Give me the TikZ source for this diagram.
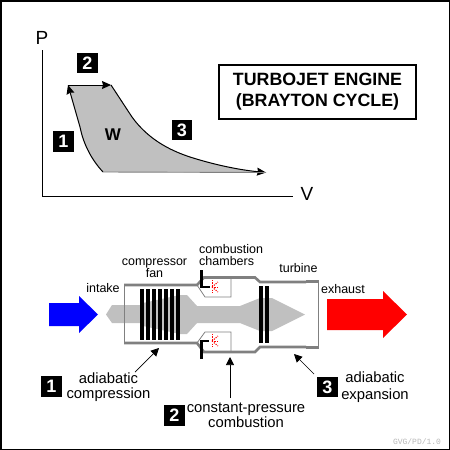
\documentclass[tikz,border=0pt]{standalone}
\usepackage{fontspec}
\setmainfont{Liberation Sans}
\setmonofont{Liberation Mono}
\usepackage{tikz}
\usetikzlibrary{arrows.meta,calc}
\definecolor{cyclegrey}{RGB}{192,192,192}
\definecolor{casegrey}{RGB}{128,128,128}
\definecolor{creditgrey}{RGB}{185,185,185}

\begin{document}
\begin{tikzpicture}[
    x=1pt, y=-1pt,
    badge/.style={fill=black, text=white, minimum size=20.5pt, inner sep=0pt, font=\fontsize{18}{18}\selectfont\bfseries},
    lbl/.style={inner sep=0pt, align=center, font=\fontsize{12.5}{12}\selectfont},
    stagelbl/.style={inner sep=0pt, align=center, font=\fontsize{14.8}{15}\selectfont},
    axislbl/.style={inner sep=0pt, font=\fontsize{19}{19}\selectfont},
    casing/.style={draw=casegrey, line width=2.6pt},
    thinline/.style={draw=casegrey, line width=0.8pt},
    blade/.style={fill=black},
    spark/.style={red, line width=1pt, dash pattern=on 1.2pt off 1.2pt},
    inject/.style={line width=2.6pt, black},
    flow/.style={-{Stealth[length=9pt,width=8pt,inset=1pt]}, line width=1pt},
    lead/.style={-{Stealth[length=8pt,width=8pt,inset=0pt]}, line width=0.7pt}
]
    \useasboundingbox (0,0) rectangle (450,450);
    \fill[white] (0,0) rectangle (450,450);
    \draw[line width=3pt] (0,0) rectangle (450,450);

    % P-V chart
    \coordinate (origin) at (42.5,196);
    \node[axislbl] (plabel) at (42,38) {P};
    \node[axislbl] (vlabel) at (307,194) {V};
    \draw[line width=0.9pt] (42.5,50) -- (origin) -- (293,196);

    \coordinate (c1) at (103,172);
    \coordinate (c2) at (68,85);
    \coordinate (c3) at (111,85);
    \coordinate (c4) at (266,172.5);
    \fill[cyclegrey] (c1) .. controls (90,158) and (83,142) .. (80,127) -- (c2) -- (c3)
        -- (132,117) .. controls (150,142) and (175,152) .. (190,157)
        .. controls (215,165) and (240,170) .. (c4) -- cycle;
    \draw[flow] (c1) .. controls (90,158) and (83,142) .. (80,127) -- (c2);
    \draw[flow] (c2) -- (c3);
    \draw[flow] (c3) -- (132,117) .. controls (150,142) and (175,152) .. (190,157)
        .. controls (215,165) and (240,170) .. (c4);
    \draw[casegrey, line width=0.9pt] (c1) -- (c4);

    \node[font=\fontsize{17}{17}\selectfont\bfseries, inner sep=0pt] (work) at (113,135) {W};
    \node[badge] (one)   at (63.5,141.5) {1};
    \node[badge] (two)   at (87.5,63)    {2};
    \node[badge] (three) at (182,130)    {3};

    \node[draw, line width=2pt, minimum width=197pt, minimum height=54pt, inner sep=0pt, align=center,
          font=\fontsize{17.8}{21}\selectfont\bfseries] (title) at (317.5,92) {TURBOJET ENGINE\\(BRAYTON CYCLE)};

    % flow arrows
    \fill[blue] (49,303) -- (79,303) -- (79,296) -- (98,314.5) -- (79,333) -- (79,326) -- (49,326) -- cycle;
    \fill[red] (327,299) -- (383,299) -- (383,291) -- (407,314.5) -- (383,338) -- (383,330) -- (327,330) -- cycle;

    % shaft
    \fill[cyclegrey] (106,314.5) -- (112,305) -- (143,305) -- (143,303) -- (180,295) -- (187,295) -- (197,306)
        -- (240,306) -- (260,298) -- (272,298) -- (305,314.5) -- (272,331) -- (260,331) -- (240,323)
        -- (197,323) -- (187,334) -- (180,334) -- (143,326) -- (143,323) -- (112,323) -- cycle;

    % casing
    \draw[thinline] (124,285) -- (124,343);
    \draw[thinline] (318,281) -- (318,347);
    \draw[thinline] (197,285) -- (205,297) -- (231,297) -- (231,277);
    \draw[thinline] (197,343) -- (205,332) -- (231,332) -- (231,352);
    \draw[casing] (124,285) -- (197,285) -- (204,277.5) -- (255,277.5) -- (260,282) -- (306,282);
    \draw[casing] (124,343) -- (197,343) -- (204,352) -- (255,352) -- (260,347) -- (306,347);
    \draw[casing, line width=3pt] (306,281) -- (319,281);
    \draw[casing, line width=3pt] (306,347.5) -- (319,347.5);

    % compressor and turbine
    \foreach \bx in {0,...,6}
        \fill[blade] ({140+6*\bx},289) rectangle ++(4.3,51);
    \foreach \bx in {259,265}
        \fill[blade] (\bx,286) rectangle ++(4,57);

    % injectors
    \draw[inject] (201.5,270) -- (201.5,287) -- (210,287);
    \draw[inject] (201.5,359) -- (201.5,341) -- (209,341);
    \foreach \sy in {287,341} {
        \draw[spark] (212,{\sy-7}) -- (212,{\sy+7});
        \draw[spark] (212,\sy) -- (218,{\sy-5});
        \draw[spark] (212,\sy) -- (218,\sy);
        \draw[spark] (212,\sy) -- (218,{\sy+5});
    }

    % part labels
    \node[lbl] (intake)  at (103,288)  {intake};
    \node[lbl] (compfan) at (154.5,268) {compressor\\fan};
    \node[lbl, align=left, anchor=west] (chambers) at (199,255) {combustion\\chambers};
    \node[lbl] (turbine) at (298.5,268) {turbine};
    \node[lbl] (exhaust) at (343,289)  {exhaust};

    % stages
    \node[badge] (stageone)   at (51.5,386.5) {1};
    \node[badge] (stagetwo)   at (174.5,415.5) {2};
    \node[badge] (stagethree) at (327.5,387)  {3};
    \node[stagelbl] (adcomp) at (108.5,387) {adiabatic\\compression};
    \node[stagelbl] (cpcomb) at (246,415.5) {constant-pressure\\combustion};
    \node[stagelbl] (adexp)  at (375,387)   {adiabatic\\[2pt]expansion};

    \coordinate (onetip)   at (159,348);
    \coordinate (twotip)   at (230,357);
    \coordinate (threetip) at (294,354);
    \coordinate (onetail)   at (135,372);
    \coordinate (twotail)   at (230,398);
    \coordinate (threetail) at (314,374);
    \draw[lead] (onetail) -- (onetip);
    \draw[lead] (twotail) -- (twotip);
    \draw[lead] (threetail) -- (threetip);

    \node[inner sep=0pt, text=creditgrey, font=\fontsize{8}{8}\selectfont\ttfamily] (credit) at (417,442) {GVG/PD/1.0};
\end{tikzpicture}
\end{document}
